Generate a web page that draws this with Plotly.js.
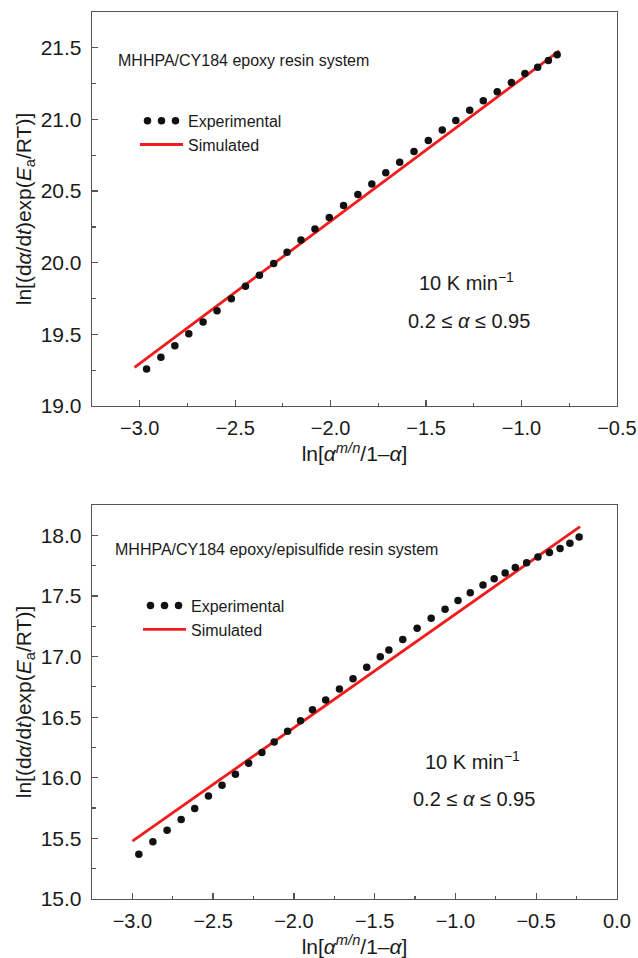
<!DOCTYPE html>
<html>
<head>
<meta charset="utf-8">
<script src="https://cdn.plot.ly/plotly-3.0.1.min.js"></script>
<style>html,body{margin:0;padding:0;background:#fff;}#chart{width:638px;height:958px;}</style>
</head>
<body>
<div id="chart"></div>
<script>
// ---- Data ----
// Top panel: MHHPA/CY184 epoxy resin system
var topExpX = [-2.964,-2.889,-2.816,-2.743,-2.668,-2.595,-2.520,-2.446,-2.373,-2.298,-2.228,-2.155,-2.082,-2.007,-1.932,-1.857,-1.784,-1.711,-1.638,-1.563,-1.488,-1.415,-1.344,-1.271,-1.200,-1.127,-1.053,-0.982,-0.915,-0.859,-0.813];
var topExpY = [19.258,19.340,19.421,19.505,19.586,19.665,19.749,19.835,19.912,19.995,20.074,20.158,20.235,20.316,20.400,20.477,20.549,20.628,20.702,20.777,20.853,20.926,20.993,21.065,21.130,21.193,21.258,21.321,21.365,21.412,21.451];
var topSimX = [-3.027, -0.802];
var topSimY = [19.270, 21.479];

// Bottom panel: MHHPA/CY184 epoxy/episulfide resin system
var botExpX = [-2.960,-2.873,-2.785,-2.698,-2.614,-2.529,-2.445,-2.362,-2.280,-2.198,-2.122,-2.039,-1.959,-1.885,-1.803,-1.718,-1.634,-1.549,-1.465,-1.412,-1.326,-1.237,-1.150,-1.064,-0.984,-0.908,-0.829,-0.760,-0.692,-0.629,-0.559,-0.489,-0.418,-0.352,-0.291,-0.234];
var botExpY = [15.370,15.472,15.568,15.656,15.747,15.849,15.938,16.029,16.120,16.208,16.296,16.384,16.470,16.561,16.641,16.732,16.817,16.911,16.999,17.054,17.140,17.234,17.316,17.391,17.462,17.526,17.589,17.642,17.688,17.735,17.774,17.821,17.859,17.892,17.934,17.986];
var botSimX = [-3.000, -0.228];
var botSimY = [15.477, 18.072];

// Text
var seriesNames = ["Experimental", "Simulated"];
var panelTitles = ["MHHPA/CY184 epoxy resin system", "MHHPA/CY184 epoxy/episulfide resin system"];
var rateLabel = "10 K min<sup>\u22121</sup>";
var rangeLabel = "0.2 \u2264 <i>\u03b1</i> \u2264 0.95";
var xTitle = "ln[<i>\u03b1</i><sup><i>m/n</i></sup>/1\u2013<i>\u03b1</i>]";
var yTitle = "ln[(d<i>\u03b1</i>/d<i>t</i>)exp(<i>E</i><sub>a</sub>/RT)]";

// ---- Styling ----
var FONT = "Liberation Sans, Arial, Helvetica, sans-serif";
var AX = "#555555";
var TXT = "#1a1a1a";
var RED = "#f21c1c";

function xAxis(anchor, range, titleStandoff) {
  return {
    anchor: anchor, domain: [0, 1], range: range,
    tick0: 0, dtick: 0.5, tickformat: ".1f",
    ticks: "inside", ticklen: 6, tickwidth: 1.3, tickcolor: AX,
    showline: true, linecolor: AX, linewidth: 1.3, mirror: true,
    showgrid: false, zeroline: false,
    minor: {tick0: 0, dtick: 0.25, ticks: "inside", ticklen: 3.5, tickwidth: 1.2, tickcolor: AX, showgrid: false},
    tickfont: {family: FONT, size: 20, color: TXT},
    ticklabelstandoff: 4,
    ticklabeloverflow: "allow",
    title: {text: xTitle, font: {family: FONT, size: 21, color: TXT}, standoff: titleStandoff}
  };
}
function yAxis(anchor, domain, range) {
  return {
    anchor: anchor, domain: domain, range: range,
    tick0: 0, dtick: 0.5, tickformat: ".1f",
    ticks: "inside", ticklen: 6, tickwidth: 1.3, tickcolor: AX,
    showline: true, linecolor: AX, linewidth: 1.3, mirror: true,
    showgrid: false, zeroline: false,
    minor: {tick0: 0, dtick: 0.25, ticks: "inside", ticklen: 3.5, tickwidth: 1.2, tickcolor: AX, showgrid: false},
    tickfont: {family: FONT, size: 21, color: TXT},
    ticklabelstandoff: 5,
    title: {text: yTitle, font: {family: FONT, size: 21, color: TXT}, standoff: 3}
  };
}

var traces = [
  {x: topSimX, y: topSimY, xaxis: "x", yaxis: "y", mode: "lines", name: seriesNames[1],
   line: {color: RED, width: 2.8}, legend: "legend", legendrank: 2},
  {x: topExpX, y: topExpY, xaxis: "x", yaxis: "y", mode: "markers", name: seriesNames[0],
   marker: {size: 7.5, color: "#111111"}, legend: "legend", legendrank: 1},
  {x: botSimX, y: botSimY, xaxis: "x2", yaxis: "y2", mode: "lines", name: seriesNames[1],
   line: {color: RED, width: 2.8}, legend: "legend2", legendrank: 2},
  {x: botExpX, y: botExpY, xaxis: "x2", yaxis: "y2", mode: "markers", name: seriesNames[0],
   marker: {size: 7.5, color: "#111111"}, legend: "legend2", legendrank: 1}
];

function legendBox(x, y) {
  return {x: x, y: y, xanchor: "left", yanchor: "top", itemwidth: 43,
    bgcolor: "rgba(0,0,0,0)", borderwidth: 0, tracegroupgap: 0,
    font: {family: FONT, size: 16, color: TXT}};
}

function ann(xref, yref, x, y, text, size, xanchor) {
  return {xref: xref, yref: yref, x: x, y: y, text: text, showarrow: false,
    xanchor: xanchor, yanchor: "middle", font: {family: FONT, size: size, color: TXT}};
}

// extra dots for the three-dot "Experimental" legend glyph
function dot(xp, yp) {
  return {type: "circle", xref: "paper", yref: "paper", xsizemode: "pixel", ysizemode: "pixel",
    xanchor: xp, yanchor: yp, x0: -3.75, x1: 3.75, y0: -3.75, y1: 3.75,
    fillcolor: "#111111", line: {width: 0}};
}

var layout = {
  width: 638, height: 958,
  margin: {l: 92, r: 21, t: 12, b: 59},
  paper_bgcolor: "#ffffff", plot_bgcolor: "#ffffff",
  font: {family: FONT, color: TXT},
  showlegend: true,
  xaxis: xAxis("y", [-3.25, -0.4995], 8),
  yaxis: yAxis("x", [0.5558, 1], [19, 21.75]),
  xaxis2: xAxis("y2", [-3.25, 0.0005], 4),
  yaxis2: yAxis("x2", [0, 0.4442], [15, 18.25]),
  legend: legendBox(0.0819, 0.8965),
  legend2: legendBox(0.0876, 0.3499),
  annotations: [
    ann("x", "y", -3.125, 21.414, panelTitles[0], 16, "left"),
    ann("x", "y", -1.29, 19.867, rateLabel, 20, "center"),
    ann("x", "y", -1.275, 19.59, rangeLabel, 20, "center"),
    ann("x2", "y2", -3.12, 17.884, panelTitles[1], 16, "left"),
    ann("x2", "y2", -0.895, 16.139, rateLabel, 20, "center"),
    ann("x2", "y2", -0.884, 15.826, rangeLabel, 20, "center")
  ],
  shapes: [
    dot(0.1057, 0.87745), dot(0.1590, 0.87745),
    dot(0.1114, 0.33089), dot(0.1648, 0.33089)
  ]
};

Plotly.newPlot("chart", traces, layout, {displayModeBar: false, staticPlot: true});
</script>
</body>
</html>
